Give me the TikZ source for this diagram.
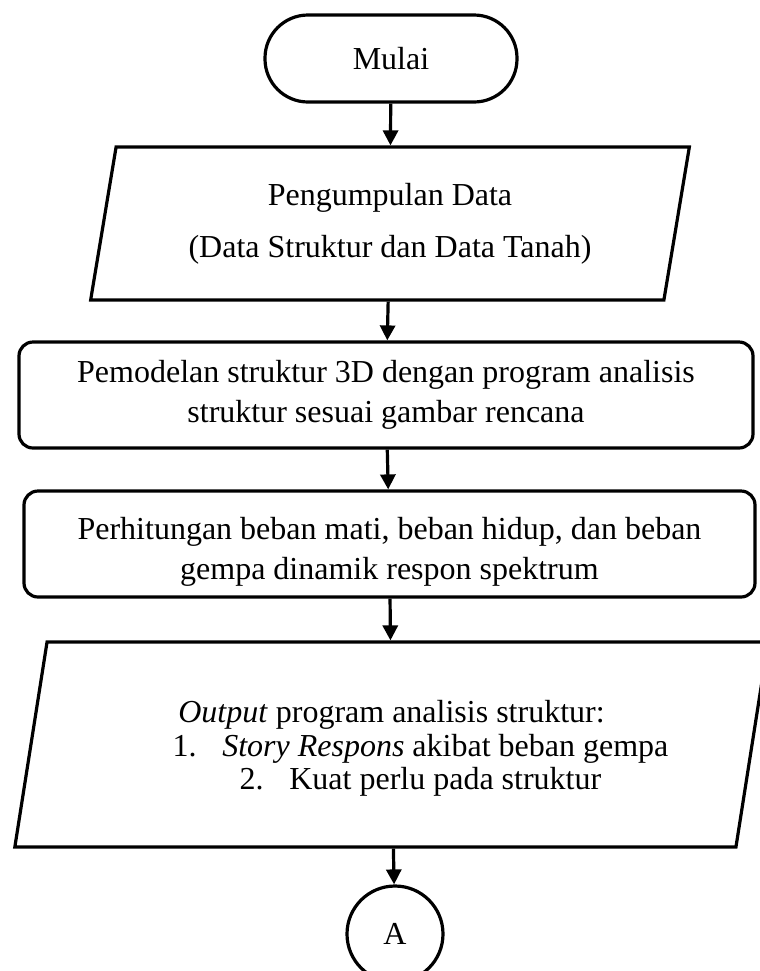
\documentclass[tikz,border=0pt]{standalone}
\usepackage{fontspec}
\setmainfont{Liberation Serif}
\usepackage{tikz}
\usetikzlibrary{shapes.geometric, arrows.meta, positioning}

\begin{document}
\begin{tikzpicture}[x=0.5pt, y=-0.5pt,
  font=\fontsize{16}{20}\selectfont,
  terminal/.style={rectangle, rounded corners=21.5pt, draw, line width=1.6pt, minimum width=126pt, minimum height=43.5pt, inner sep=0pt},
  inout/.style={trapezium, trapezium stretches=true, draw, line width=1.6pt, align=center, inner sep=0pt},
  proses/.style={rectangle, rounded corners=7pt, draw, line width=1.6pt, align=center, inner sep=0pt},
  konektor/.style={circle, draw, line width=1.6pt, minimum size=48pt, inner sep=0pt},
  panah/.style={line width=1.6pt, -{Triangle[length=7.5pt, width=7.5pt]}}
]
\useasboundingbox (0,0) rectangle (760,971);

% Mulai
\node[terminal] (mulai) at (391,58.5) {Mulai};

% Pengumpulan data
\node[inout, trapezium left angle=77, trapezium right angle=103, minimum width=300pt, minimum height=76.5pt, font=\fontsize{16}{26}\selectfont] (data) at (390,223.5) {Pengumpulan Data\\(Data Struktur dan Data Tanah)};

% Pemodelan
\node[proses, minimum width=367pt, minimum height=53pt] (model) at (386,395) {Pemodelan struktur 3D dengan program analisis\\struktur sesuai gambar rencana};

% Perhitungan beban
\node[proses, minimum width=365.5pt, minimum height=53pt] (beban) at (389.5,544) {\rule{0pt}{19pt}Perhitungan beban mati, beban hidup, dan beban\\gempa dinamik respon spektrum};

% Output
\node[inout, trapezium left angle=76, trapezium right angle=104, minimum width=377.5pt, minimum height=102.5pt, font=\fontsize{16}{16.75}\selectfont] (output) at (391.5,744.5) {\rule{0pt}{15pt}\textit{Output} program analisis struktur:\\ \hspace*{29pt}1.\hspace{0.8em}\textit{Story Respons} akibat beban gempa\\ \hspace*{29pt}2.\hspace{0.8em}Kuat perlu pada struktur};

% Konektor
\node[konektor] (a) at (395,934) {A};

% Panah
\draw[panah] (mulai) -- (data);
\draw[panah] (data) -- (model);
\draw[panah] (model) -- (beban);
\draw[panah] (beban) -- (output);
\draw[panah] (output) -- (a);
\end{tikzpicture}
\end{document}
